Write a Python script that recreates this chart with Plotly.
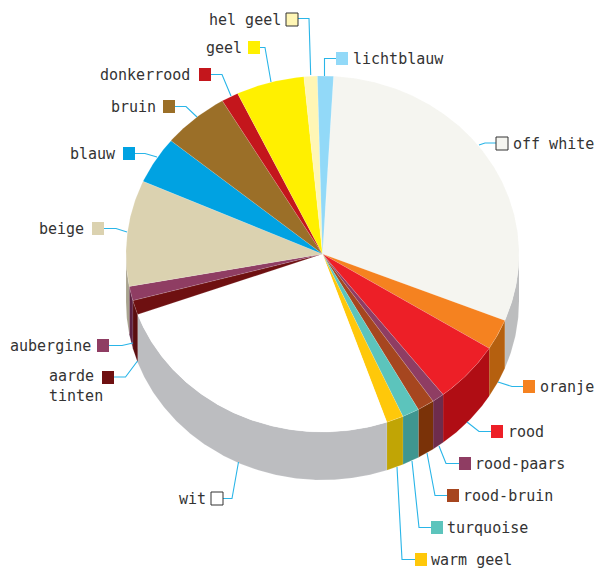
import numpy as np
import plotly.graph_objects as go

# share per colour (%), clockwise, first slice starts just right of the top
labels = ['off white', 'oranje', 'rood', 'rood-paars', 'rood-bruin', 'turquoise', 'warm geel', 'wit',
          'aarde<br>tinten', 'aubergine', 'beige', 'blauw', 'bruin', 'donkerrood', 'geel', 'hel geel', 'lichtblauw']
values = [30.2, 2.8, 5.6, 1.0, 1.4, 1.4, 1.4, 24.8, 1.3, 1.3, 9.6, 4.3, 5.5, 1.4, 5.6, 1.1, 1.3]
colors = ['#f5f5f0', '#f58220', '#ed1f27', '#8f3d63', '#a6461f', '#5cc4bc', '#ffc80a', '#ffffff',
          '#6e1011', '#8f3d63', '#dbd2b0', '#00a2e2', '#9b6f28', '#c4161c', '#fff000', '#fff6b5', '#92d9f8']
side_colors = ['#bcbdbe', '#b5600f', '#b00d14', '#6e2c4c', '#7a3208', '#3f9690', '#c1a505', '#bcbdc0',
               '#5b0e10', '#5c2142', '#a8a38e', '#00a2e2', '#9b6f28', '#c4161c', '#fff000', '#fff6b5', '#92d9f8']

# pie geometry, in page pixels
cx, cy = 322.5, 254
rx, ry = 196.5, 178
depth = 48
start_angle = 3.2

# label layout: swatch left edge, swatch top, text x, text anchor, leader line
key_layout = {
    'off white': (496, 137, 511, 'left', [(496, 143), (485, 143), (479, 145)]),
    'oranje': (523, 380, 538, 'left', [(523, 386.5), (512, 386.5), (498, 382)]),
    'rood': (491, 425, 506, 'left', [(491, 431.5), (479, 431.5), (467, 422)]),
    'rood-paars': (459, 457, 473, 'left', [(459, 463.5), (446, 463.5), (439, 446)]),
    'rood-bruin': (447, 489, 461, 'left', [(447, 495.5), (435, 495.5), (427, 453)]),
    'turquoise': (431, 521, 445, 'left', [(431, 527.5), (419, 527.5), (412, 461)]),
    'warm geel': (415, 553, 429, 'left', [(415, 559.5), (402, 559.5), (397, 467)]),
    'wit': (211, 492, 208, 'right', [(223, 498.5), (232, 498.5), (238.5, 462)]),
    'aarde<br>tinten': (102, 371, 47, 'left', [(114, 377), (125.5, 377), (137.5, 361)]),
    'aubergine': (97, 339, 93, 'right', [(109, 345.5), (122, 345.5), (133, 343)]),
    'beige': (92, 222, 86, 'right', [(104, 228.5), (116, 228.5), (127, 232)]),
    'blauw': (123, 147, 118, 'right', [(135, 153.5), (145, 153.5), (157, 157)]),
    'bruin': (163, 100, 158, 'right', [(175, 106.5), (186, 106.5), (197, 117)]),
    'donkerrood': (199, 68, 192, 'right', [(211, 74.5), (222, 74.5), (231, 96)]),
    'geel': (248, 41, 243.5, 'right', [(260, 47.5), (265, 47.5), (271, 82)]),
    'hel geel': (286, 13, 282.5, 'right', [(298, 18.5), (309, 18.5), (310.7, 75)]),
    'lichtblauw': (336, 52, 351, 'left', [(336, 58.5), (324.5, 58.5), (324.5, 76)]),
}
outlined = ['off white', 'wit', 'hel geel']


def arc(a0, a1, drop=0):
    t = np.radians(np.linspace(a0, a1, max(int(a1 - a0) * 2, 2)))
    return cx + rx * np.sin(t), cy - ry * np.cos(t) + drop


fig = go.Figure()
edges = start_angle + np.cumsum([0] + values) * 3.6

# --- Side wall (only the front half shows)
for i, label in enumerate(labels):
    a0, a1 = max(edges[i], 90), min(edges[i + 1], 270)
    if a1 <= a0:
        continue
    x_top, y_top = arc(a0, a1)
    x_bot, y_bot = arc(a0, a1, depth)
    fig.add_trace(go.Scatter(
        x=np.r_[x_top, x_bot[::-1]], y=np.r_[y_top, y_bot[::-1]],
        mode='lines', fill='toself', fillcolor=side_colors[i],
        line=dict(color='rgba(255,255,255,0.25)', width=0.5),
        hoverinfo='skip', showlegend=False
    ))

# --- Top face
for i, label in enumerate(labels):
    x_arc, y_arc = arc(edges[i], edges[i + 1])
    fig.add_trace(go.Scatter(
        x=np.r_[cx, x_arc, cx], y=np.r_[cy, y_arc, cy],
        mode='lines', fill='toself', fillcolor=colors[i],
        line=dict(color='rgba(255,255,255,0.25)', width=0.5),
        name=label.replace('<br>', ' '), text=f'{values[i]}%', hoverinfo='name+text', showlegend=False
    ))

# --- Keys, leader lines and labels
for i, label in enumerate(labels):
    sx, sy, tx, anchor, leader = key_layout[label]
    fig.add_trace(go.Scatter(
        x=[p[0] for p in leader], y=[p[1] for p in leader],
        mode='lines', line=dict(color='#29b5e8', width=1.1),
        hoverinfo='skip', showlegend=False
    ))
    edge = dict(color='#333333', width=1) if label in outlined else dict(width=0)
    fig.add_shape(type='rect', x0=sx, x1=sx + 12, y0=sy, y1=sy + 13, fillcolor=colors[i], line=edge)
    ty = sy + 6.5 if '<br>' not in label else sy + 15
    fig.add_annotation(x=tx, y=ty, text=label, showarrow=False, xanchor=anchor, yanchor='middle', align='left',
                       font=dict(family='DejaVu Sans Mono', size=15, color='#333333'))

fig.update_layout(
    width=595, height=569,
    margin=dict(t=0, b=0, l=0, r=0),
    plot_bgcolor='white', paper_bgcolor='white',
    xaxis=dict(range=[0, 595], visible=False),
    yaxis=dict(range=[569, 0], visible=False)
)
# drop the page's default body margin so the figure fills the window
fig.write_html("out.html", config={'displayModeBar': False}, post_script="document.body.style.margin = '0';")
